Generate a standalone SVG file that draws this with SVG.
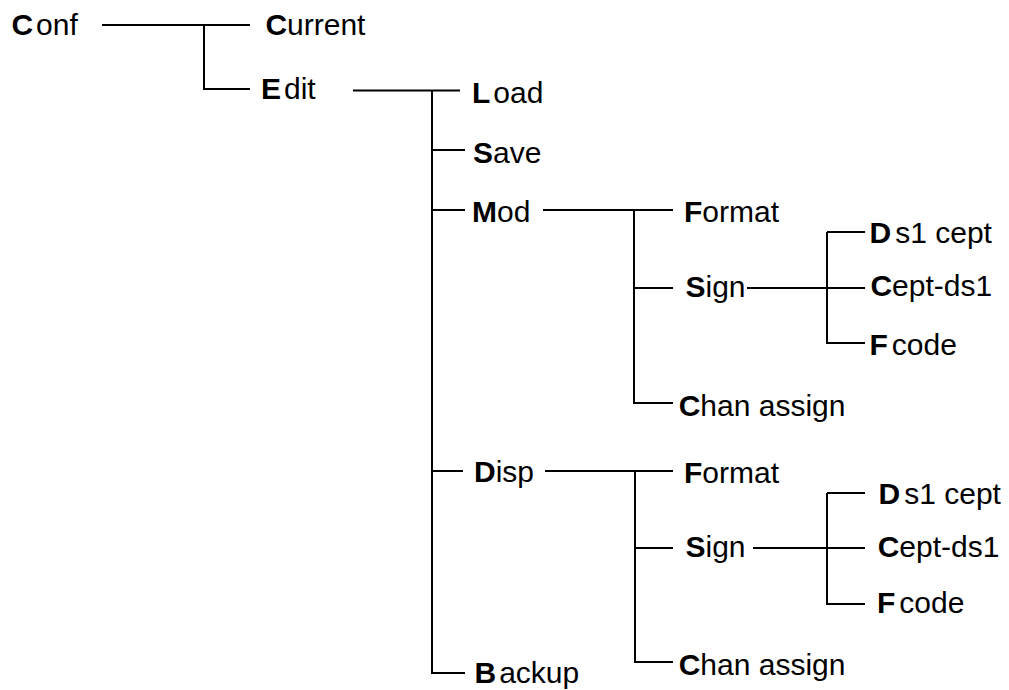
<svg xmlns="http://www.w3.org/2000/svg" width="1009" height="690" viewBox="0 0 1009 690">
  <style>
    text { font-family: "Liberation Sans", Arial, sans-serif; font-size: 30px; fill: #000; }
    .k { font-weight: bold; }
    .wire { fill: none; stroke: #000; stroke-width: 2; }
  </style>
  <rect width="1009" height="690" fill="#fff"/>

  <!-- connectors -->
  <g id="connectors" class="wire">
    <path d="M102 25H250M204 25V89H250"/>
    <path d="M353 90.5H460M432 90.5V673H465M432 150H465M432 210H465M432 471H463"/>
    <path d="M543 210H673M634 210V403H673M634 288H673"/>
    <path d="M747 288H865M827 232V343H865M827 232H865"/>
    <path d="M545 471H673M635 471V662H673M635 548H673"/>
    <path d="M753 548H865M827 493V604H865M827 493H865"/>
  </g>

  <!-- menu entries: the bold letter is the hot key -->
  <g id="conf"><text x="11.4" y="35"><tspan class="k">C</tspan><tspan dx="3">onf</tspan></text></g>
  <g id="current"><text x="265.4" y="35"><tspan class="k">C</tspan>urrent</text></g>
  <g id="edit"><text x="261" y="99"><tspan class="k">E</tspan><tspan dx="3">dit</tspan></text></g>
  <g id="load"><text x="472" y="103"><tspan class="k">L</tspan><tspan dx="3">oad</tspan></text></g>
  <g id="save"><text x="473" y="163"><tspan class="k">S</tspan>ave</text></g>
  <g id="mod"><text x="472" y="222"><tspan class="k">M</tspan>od</text></g>
  <g id="disp"><text x="474" y="482"><tspan class="k">D</tspan>isp</text></g>
  <g id="backup"><text x="474.5" y="683"><tspan class="k">B</tspan><tspan dx="3">ackup</tspan></text></g>

  <g id="mod-format"><text x="684" y="222"><tspan class="k">F</tspan>ormat</text></g>
  <g id="mod-sign"><text x="685.5" y="297"><tspan class="k">S</tspan>ign</text></g>
  <g id="mod-chan"><text x="678.7" y="416"><tspan class="k">C</tspan>han assign</text></g>
  <g id="mod-ds1"><text x="869.5" y="243"><tspan class="k">D</tspan><tspan dx="4">s1 cept</tspan></text></g>
  <g id="mod-cept"><text x="870.4" y="296"><tspan class="k">C</tspan>ept-ds1</text></g>
  <g id="mod-fcode"><text x="869.5" y="355"><tspan class="k">F</tspan><tspan dx="4">code</tspan></text></g>

  <g id="disp-format"><text x="684" y="483"><tspan class="k">F</tspan>ormat</text></g>
  <g id="disp-sign"><text x="685.5" y="557"><tspan class="k">S</tspan>ign</text></g>
  <g id="disp-chan"><text x="678.7" y="675"><tspan class="k">C</tspan>han assign</text></g>
  <g id="disp-ds1"><text x="878.5" y="504"><tspan class="k">D</tspan><tspan dx="4">s1 cept</tspan></text></g>
  <g id="disp-cept"><text x="877.7" y="557"><tspan class="k">C</tspan>ept-ds1</text></g>
  <g id="disp-fcode"><text x="877" y="613"><tspan class="k">F</tspan><tspan dx="4">code</tspan></text></g>
</svg>
